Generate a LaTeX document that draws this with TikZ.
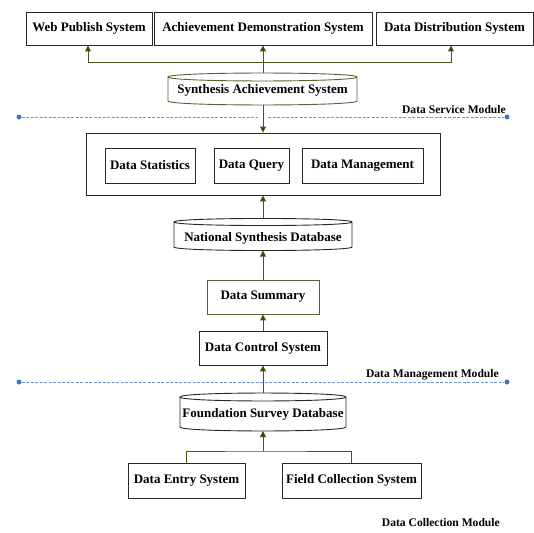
\documentclass[tikz,border=0pt]{standalone}
\usepackage{fontspec}
\setmainfont{Liberation Serif}
\usetikzlibrary{arrows.meta}
\definecolor{conncol}{RGB}{80,80,30}
\definecolor{tipcol}{RGB}{55,55,15}
\definecolor{olivebox}{RGB}{95,95,50}
\definecolor{boxcol}{RGB}{40,40,40}
\definecolor{dashcol}{RGB}{110,150,215}
\definecolor{dotcol}{RGB}{68,114,196}
\tikzset{
  sysbox/.style={draw=boxcol,line width=0.9pt,inner sep=0pt,font=\fontsize{13}{15}\selectfont\bfseries},
  cyltext/.style={inner sep=0pt,font=\fontsize{13}{15}\selectfont\bfseries},
  modlabel/.style={inner sep=0pt,font=\fontsize{11.6}{13}\selectfont\bfseries,anchor=east},
  conn/.style={draw=conncol,line width=1pt},
  arr/.style={conn,-{Triangle[length=6pt,width=6pt,fill=tipcol]}},
  modline/.style={draw=dashcol,dashed,dash pattern=on 3pt off 1.5pt,line width=0.9pt},
  dot/.style={circle,fill=dotcol,inner sep=0pt,minimum size=5pt},
  cylline/.style={line width=0.9pt}
}
\begin{document}
\begin{tikzpicture}[x=1pt,y=-1pt]
\useasboundingbox (0,0) rectangle (534,532);

% top systems
\node[sysbox,minimum width=126pt,minimum height=33pt] (web) at (89,28.5) {Web Publish System};
\node[sysbox,minimum width=218pt,minimum height=33pt] (ach) at (263,28.5) {Achievement Demonstration System};
\node[sysbox,minimum width=157pt,minimum height=33pt] (dist) at (454.5,28.5) {Data Distribution System};

% Synthesis Achievement System (cylinder)
\draw[cylline,draw=olivebox] (168,77) -- (168,101) .. controls (168,106.3) and (357,106.3) .. (357,101) -- (357,77)
  .. controls (357,71.7) and (168,71.7) .. (168,77) .. controls (168,82.3) and (357,82.3) .. (357,77);
\node[cyltext] (synth) at (262.5,90.5) {Synthesis Achievement System};
\coordinate (synthtop) at (263,73);
\coordinate (synthbot) at (263,105);

% service module line
\node[dot] (sl) at (19,117) {};
\node[dot] (sr) at (507,117) {};
\coordinate (sgapl) at (258,117);
\coordinate (sgapr) at (268,117);
\draw[modline] (sl) -- (sgapl);
\draw[modline] (sgapr) -- (sr);
\node[modlabel] (servlab) at (506,109.5) {Data Service Module};

% big box with functions
\node[draw=boxcol,line width=0.9pt,minimum width=354pt,minimum height=62pt,inner sep=0pt] (big) at (263,164) {};
\node[sysbox,minimum width=90pt,minimum height=35pt] (stats) at (150,165.5) {Data Statistics};
\node[sysbox,minimum width=75pt,minimum height=35pt] (query) at (251.5,165.5) {Data Query};
\node[sysbox,minimum width=121pt,minimum height=35pt] (mgmt) at (362.5,165.5) {Data Management};

% National Synthesis Database
\draw[cylline,draw=boxcol] (174,222) -- (174,247) .. controls (174,251.7) and (352,251.7) .. (352,247) -- (352,222)
  .. controls (352,217.3) and (174,217.3) .. (174,222) .. controls (174,226.7) and (352,226.7) .. (352,222);
\node[cyltext] (nat) at (263,238) {National Synthesis Database};
\coordinate (nattop) at (263,218.5);
\coordinate (natbot) at (263,250.5);

% Data Summary and Control
\node[sysbox,draw=olivebox,minimum width=112pt,minimum height=34pt] (summ) at (263,297) {Data Summary};
\node[sysbox,minimum width=128pt,minimum height=34pt] (ctrl) at (263,348) {Data Control System};

% management module line
\node[dot] (ml) at (19,382) {};
\node[dot] (mr) at (507,382) {};
\draw[modline] (ml) -- (mr);
\node[modlabel] (mgmtlab) at (499,374.5) {Data Management Module};

% Foundation Survey Database
\draw[cylline,draw=boxcol] (180,397) -- (180,427) .. controls (180,432.3) and (346,432.3) .. (346,427) -- (346,397)
  .. controls (346,391.7) and (180,391.7) .. (180,397) .. controls (180,402.3) and (346,402.3) .. (346,397);
\node[cyltext] (found) at (263,414) {Foundation Survey Database};
\coordinate (foundtop) at (263,393);
\coordinate (foundbot) at (263,431);

% collection systems
\node[sysbox,minimum width=117pt,minimum height=35pt] (entry) at (186.5,480.5) {Data Entry System};
\node[sysbox,minimum width=139pt,minimum height=35pt] (field) at (351.5,480.5) {Field Collection System};

\node[modlabel] (collab) at (500,522.5) {Data Collection Module};

% connectors
\coordinate (j1) at (263,63);
\draw[arr] (synthtop) -- (ach.south);
\draw[arr] (j1) -| (88,45.5);
\draw[arr] (j1) -| (451,45.5);
\draw[arr] (synthbot) -- (big.north);
\draw[arr] (nattop) -- (big.south);
\draw[arr] (summ.north) -- (natbot);
\draw[arr] (ctrl.north) -- (summ.south);
\draw[arr] (foundtop) -- (ctrl.south);
\coordinate (j2) at (263,451);
\draw[conn] (entry.north) |- (j2) -| (field.north);
\draw[arr] (j2) -- (foundbot);
\end{tikzpicture}
\end{document}
